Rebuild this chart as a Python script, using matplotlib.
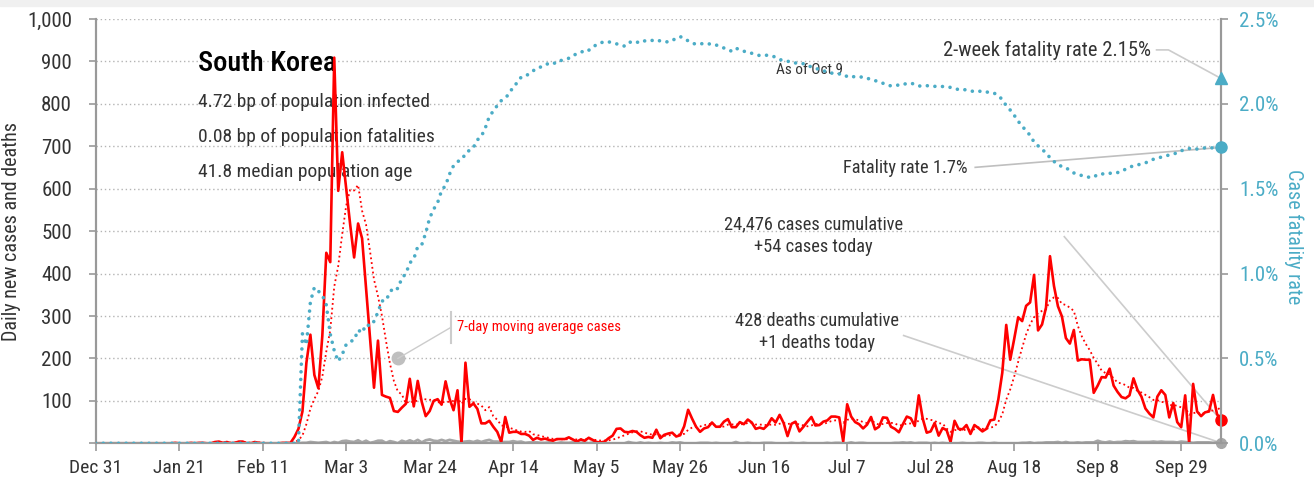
import datetime as dt
import numpy as np
import pandas as pd
import matplotlib
matplotlib.use("Agg")
import matplotlib.pyplot as plt
import matplotlib.font_manager as fm
from matplotlib.ticker import FixedLocator, FuncFormatter

# daily new cases, South Korea, Dec 31 2019 .. Oct 9 2020
cases_dec = [0]
cases_jan = [0, 0, 0, 0, 0, 0, 0, 0, 0, 0, 0, 0, 0, 0, 0, 0, 0, 0, 0, 1,
             0, 0, 0, 1, 0, 1, 1, 0, 0, 3, 4]
cases_feb = [1, 3, 0, 1, 4, 4, 0, 0, 3, 1, 0, 0, 0, 0, 0, 1, 1, 1, 15, 34,
             75, 190, 256, 161, 130, 253, 449, 427, 909]
cases_mar = [595, 686, 600, 516, 438, 518, 483, 367, 248, 131, 242, 114, 110, 107, 76,
             74, 84, 93, 152, 87, 147, 98, 64, 76, 100, 104, 91, 146, 105, 78, 125]
cases_apr = [0, 190, 86, 94, 81, 47, 47, 53, 39, 27, 3, 62, 25, 27, 27,
             22, 22, 18, 8, 13, 9, 11, 8, 6, 10, 10, 10, 14, 9, 4]
cases_may = [9, 6, 13, 8, 3, 2, 4, 12, 18, 34, 35, 27, 26, 29, 27, 19,
             13, 15, 13, 32, 12, 20, 23, 25, 16, 19, 40, 79, 58, 39, 27]
cases_jun = [35, 38, 49, 39, 39, 51, 57, 38, 38, 50, 45, 56, 49, 34, 37,
             34, 43, 59, 49, 67, 48, 17, 46, 51, 28, 39, 51, 62, 42, 43]
cases_jul = [51, 54, 63, 63, 61, 4, 92, 63, 50, 45, 35, 44, 62, 33, 39, 61,
             60, 39, 34, 26, 45, 63, 59, 41, 113, 58, 25, 28, 48, 18, 36]
cases_aug = [31, 3, 53, 34, 33, 43, 22, 43, 36, 28, 34, 54, 56, 103, 166, 279,
             197, 246, 297, 288, 324, 332, 397, 266, 280, 320, 441, 371, 323, 299, 248]
cases_sep = [235, 267, 195, 198, 197, 197, 119, 136, 156, 155, 176, 136, 121, 109, 106,
             113, 153, 126, 110, 82, 70, 61, 110, 125, 114, 61, 95, 50, 38, 113]
cases_oct = [0, 140, 75, 64, 73, 75, 114, 69, 54]

# daily new deaths
deaths_dec = [0]
deaths_jan = [0] * 31
deaths_feb = [0] * 20 + [1, 1, 3, 2, 1, 2, 3, 0, 3]
deaths_mar = [1, 5, 6, 4, 3, 7, 2, 6, 1, 3, 6, 6, 1, 5, 3, 0,
              6, 3, 7, 3, 8, 2, 7, 9, 6, 5, 8, 5, 8, 6, 4]
deaths_apr = [3, 4, 5, 3, 6, 3, 6, 8, 4, 4, 3, 3, 3, 5, 3,
              4, 1, 2, 2, 2, 1, 1, 2, 0, 0, 2, 1, 1, 2, 1]
deaths_may = [1, 2, 0, 2, 2, 1, 1, 0, 0, 0, 0, 0, 3, 1, 0, 2,
              0, 1, 0, 0, 1, 0, 0, 2, 1, 2, 0, 0, 0, 0, 1]
deaths_jun = [1, 1, 0, 1, 0, 0, 0, 0, 3, 0, 0, 1, 0, 0, 0,
              1, 1, 1, 0, 0, 0, 0, 1, 0, 0, 1, 0, 0, 0, 0]
deaths_jul = [0, 1, 0, 1, 1, 0, 0, 2, 0, 1, 1, 0, 0, 0, 0, 0,
              0, 0, 1, 1, 2, 1, 2, 0, 1, 1, 1, 0, 1, 0, 1]
deaths_aug = [0, 0, 0, 0, 1, 0, 0, 0, 1, 1, 0, 0, 1, 0, 0, 0,
              0, 0, 0, 1, 1, 2, 0, 1, 1, 2, 2, 2, 3, 1, 3]
deaths_sep = [1, 1, 2, 1, 2, 2, 2, 6, 3, 2, 4, 2, 3, 3, 5,
              4, 5, 3, 3, 3, 3, 4, 3, 4, 3, 3, 3, 2, 4, 3]
deaths_oct = [2, 1, 2, 2, 2, 2, 1, 2, 1]

two_week_rate = 2.15
title = "South Korea"
facts = ["4.72 bp of population infected",
         "0.08 bp of population fatalities",
         "41.8 median population age"]
xtick_step = 21

dates = pd.date_range("2019-12-31", "2020-10-09", freq="D")
cases = np.array(cases_dec + cases_jan + cases_feb + cases_mar + cases_apr + cases_may
                 + cases_jun + cases_jul + cases_aug + cases_sep + cases_oct, dtype=float)
deaths = np.array(deaths_dec + deaths_jan + deaths_feb + deaths_mar + deaths_apr + deaths_may
                  + deaths_jun + deaths_jul + deaths_aug + deaths_sep + deaths_oct, dtype=float)
assert len(cases) == len(dates) == len(deaths)

avg7 = pd.Series(cases).rolling(7, min_periods=1).mean().to_numpy()
cum_c = np.cumsum(cases)
cum_d = np.cumsum(deaths)
cfr = np.where(cum_c > 0, cum_d / np.maximum(cum_c, 1) * 100, 0.0)

# pick a condensed face if one is installed, otherwise a narrow-ish sans
cond = [f for f in fm.fontManager.ttflist
        if f.stretch in ("condensed", "semi-condensed", "extra-condensed")
        and f.style == "normal" and f.weight in (400, "normal", "regular")]
pref = ["Noto Sans", "Roboto Condensed", "Roboto", "Open Sans", "DejaVu Sans", "Liberation Sans Narrow"]
cond.sort(key=lambda f: pref.index(f.name) if f.name in pref else 99)
if cond:
    plt.rcParams["font.family"] = [cond[0].name, "DejaVu Sans"]
    plt.rcParams["font.stretch"] = cond[0].stretch
    k = 1.0 if cond[0].stretch == "condensed" else 0.92
else:
    plt.rcParams["font.family"] = ["Roboto", "DejaVu Sans"]
    k = 0.86

RED = "#ff0000"
BLUE = "#4bacc6"
GRAY = "#a6a6a6"
LGRAY = "#cccccc"
TXT = "#333333"

fig = plt.figure(figsize=(13.14, 4.84), dpi=100)
fig.patches.append(plt.Rectangle((0, 0.988), 1, 0.012, transform=fig.transFigure,
                                 color="#f0f0f0", zorder=0))
ax = fig.add_axes([0.0728, 0.0841, 0.8564, 0.8766])
ax2 = ax.twinx()

t0 = dates[0]
def day(n):
    return t0 + pd.Timedelta(days=n)

# left axis: cases / deaths
ax.plot(dates, deaths, color=GRAY, lw=2, zorder=3)
ax.plot(dates, avg7, color=RED, lw=1.3, ls=":", zorder=4)
ax.plot(dates, cases, color=RED, lw=1.9, zorder=5)
ax.plot(dates[-1], cases[-1], "o", color=RED, ms=8, clip_on=False, zorder=6)
ax.plot(dates[-1], deaths[-1], "o", color=GRAY, ms=7, clip_on=False, zorder=6)

ax.set_ylim(0, 1000)
ax.set_xlim(dates[0], dates[-1])
ax.yaxis.set_major_locator(FixedLocator(np.arange(0, 1001, 100)))
ax.yaxis.set_major_formatter(FuncFormatter(lambda v, p: "" if v == 0 else f"{v:,.0f}"))
ax.grid(axis="y", color="#b4b4b4", ls=(0, (1, 2)), lw=1)
ax.set_axisbelow(True)

xt = [day(i) for i in range(0, len(dates), xtick_step)]
ax.set_xticks(xt)
ax.set_xticklabels([f"{d:%b} {d.day}" for d in xt])

for a in (ax, ax2):
    a.spines["top"].set_visible(False)
    for s in ("left", "right", "bottom"):
        a.spines[s].set_color("#999999")
        a.spines[s].set_linewidth(1.5)
ax.tick_params(axis="x", length=6, width=1.2, color="#999999", labelsize=14 * k,
               labelcolor=TXT, pad=5)
ax.tick_params(axis="y", length=5, width=1.2, color="#999999", labelsize=15 * k,
               labelcolor=TXT, pad=12)
ax.set_ylabel("Daily new cases and deaths", fontsize=14.5 * k, color=TXT)
ax.yaxis.set_label_coords(-0.066, 0.5)

# right axis: fatality rate
ax2.plot(dates, cfr, color=BLUE, lw=2.6, ls=(0, (0.01, 2.1)), dash_capstyle="round", zorder=4)
ax2.plot(dates[-1], cfr[-1], "o", color=BLUE, ms=8, clip_on=False, zorder=6)
ax2.plot(dates[-1], two_week_rate, "^", color=BLUE, ms=8, clip_on=False, zorder=6)
ax2.set_ylim(0, 2.5)
ax2.yaxis.set_major_locator(FixedLocator(np.arange(0, 2.51, 0.5)))
ax2.yaxis.set_major_formatter(FuncFormatter(lambda v, p: f"{v:.1f}%"))
ax2.tick_params(axis="y", length=5, width=1.2, color="#999999", labelsize=15 * k,
                labelcolor=BLUE, pad=8)
ax2.set_ylabel("Case fatality rate", fontsize=14.5 * k, color=BLUE, rotation=270, va="center")
ax2.yaxis.set_label_coords(1.065, 0.486)

# title block
ax.text(0.091, 0.896, title, transform=ax.transAxes, fontsize=20.5 * k, color="black",
        va="center", fontweight="medium")
for i, line in enumerate(facts):
    ax.text(0.091, 0.804 - i * 0.082, line, transform=ax.transAxes, fontsize=14 * k,
            color=TXT, va="center")

# 7-day average callout
ax.plot(day(76), 200, "o", color="#bfbfbf", ms=9, zorder=7)
ax.plot([day(76), day(89.3)], [200, 273], color=LGRAY, lw=1, zorder=7)
ax.plot([day(89.3), day(89.3)], [236, 310], color=LGRAY, lw=1.5, zorder=7)
ax.text(day(90.8), 274, "7-day moving average cases", color=RED, fontsize=10.5 * k,
        va="center", zorder=7)

# cumulative callouts
last = dates[-1]
ax.text(day(180.5), 490, "24,476 cases cumulative\n+54 cases today",
        fontsize=13.2 * k, color=TXT, ha="center", va="center", linespacing=1.3, zorder=7)
ax.plot([day(243.6), last], [487, cases[-1]], color=LGRAY, lw=1.2, zorder=2)
ax.text(day(181.5), 262, "428 deaths cumulative\n+1 deaths today",
        fontsize=13.2 * k, color=TXT, ha="center", va="center", linespacing=1.3, zorder=7)
ax.plot([day(203.2), last], [254, deaths[-1]], color=LGRAY, lw=1.2, zorder=2)

# fatality callouts (right axis)
ax2.text(day(219.4), 1.62, "Fatality rate 1.7%", fontsize=13.2 * k, color=TXT,
         ha="right", va="center")
ax2.plot([day(221.2), last], [1.626, cfr[-1]], color="#bfbfbf", lw=1.2, zorder=3)
ax2.text(day(265.3), 2.318, "2-week fatality rate 2.15%", fontsize=14.8 * k, color=TXT,
         ha="right", va="center")
ax2.plot([day(266.8), day(269.8), last], [2.318, 2.318, two_week_rate],
         color=LGRAY, lw=1.2, zorder=3)
ax2.text(day(171), 2.2, "As of Oct 9", fontsize=11 * k, color=TXT, ha="left", va="center")

fig.savefig("out.png", dpi=100)
